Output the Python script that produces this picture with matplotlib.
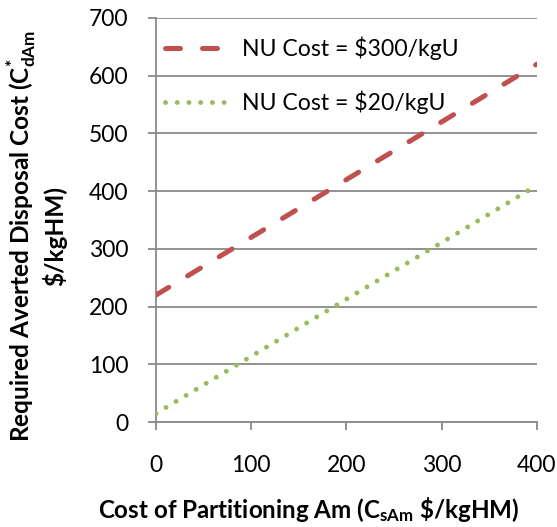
import matplotlib
matplotlib.use("Agg")
from matplotlib import pyplot as plt

plt.rcParams['font.family'] = ['Lato', 'DejaVu Sans']
# keep the sub/superscripts in the axis titles bold Lato too
plt.rcParams['mathtext.fontset'] = 'custom'
plt.rcParams['mathtext.rm'] = 'Lato:bold'
plt.rcParams['mathtext.bf'] = 'Lato:bold'
plt.rcParams['mathtext.it'] = 'Lato:bold'
plt.rcParams['mathtext.default'] = 'bf'

# partitioning cost ($/kgHM)
cost_am = [0, 100, 200, 300, 400]
# required averted disposal cost for two natural-uranium prices
nu_300 = [220, 320, 420, 520, 620]
nu_20 = [15, 114, 213, 311, 410]

series_labels = ["NU Cost = $300/kgU", "NU Cost = $20/kgU"]
x_ticks = [0, 100, 200, 300, 400]
y_ticks = [0, 100, 200, 300, 400, 500, 600, 700]

GRID = "#898989"

fig = plt.figure(figsize=(5.57, 5.27), dpi=100)
ax = fig.add_axes([0.280, 0.199, 0.684, 0.767])

ax.plot(cost_am, nu_300, color="#C0504D", lw=3.6, dashes=(3.0, 4.4),
        solid_capstyle="round", dash_capstyle="round", label=series_labels[0], zorder=3)
ax.plot(cost_am, nu_20, color="#9BBB59", lw=3.5, dashes=(0.01, 2.4),
        dash_capstyle="round", label=series_labels[1], zorder=3)

ax.set_xlim(0, 400)
ax.set_ylim(0, 700)
ax.set_xticks(x_ticks)
ax.set_yticks(y_ticks)
ax.yaxis.grid(True, color=GRID, lw=1.3)
ax.set_axisbelow(True)

for side in ["top", "right"]:
    ax.spines[side].set_visible(False)
for side in ["left", "bottom"]:
    ax.spines[side].set_color(GRID)
    ax.spines[side].set_linewidth(1.3)

ax.tick_params(axis="x", direction="out", length=6, width=1.3, color=GRID,
               pad=18, labelsize=16.5)
ax.tick_params(axis="y", direction="out", length=6, width=1.3, color=GRID,
               pad=14, labelsize=16.5)

ax.set_xlabel("Cost of Partitioning Am (C$_{sAm}$ \\$/kgHM)",
              fontsize=17.4, fontweight="bold")
ax.xaxis.set_label_coords(0.402, -0.18)
ax.set_ylabel("Required Averted Disposal Cost (C$^{*}_{dAm}$\n\\$/kgHM)",
              fontsize=17.6, fontweight="bold", linespacing=1.2)
ax.yaxis.set_label_coords(-0.232, 0.46)

leg = ax.legend(loc="upper left", bbox_to_anchor=(0.024, 0.955), frameon=False,
                fontsize=16.6, handlelength=2.7, handletextpad=0.64,
                labelspacing=1.35, borderpad=0, borderaxespad=0)

fig.savefig("out.png", dpi=100)
